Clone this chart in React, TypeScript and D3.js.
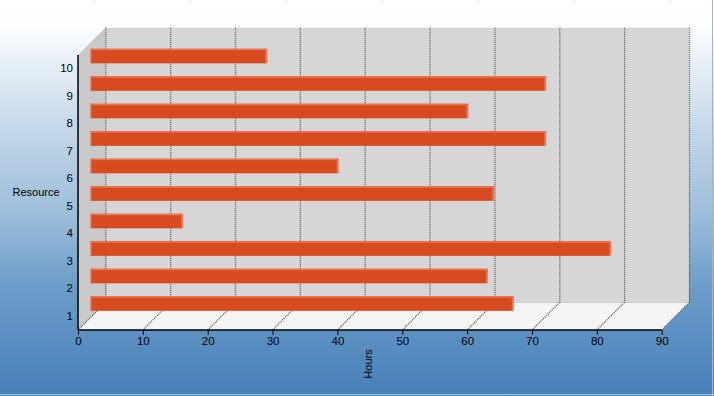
import React, { useEffect, useRef } from 'react';
import * as d3 from 'd3';

// Chart data
const resources = ['1', '2', '3', '4', '5', '6', '7', '8', '9', '10'];
const hours = [65, 61, 80, 14, 62, 38, 70, 58, 70, 27];
const xTicks = [0, 10, 20, 30, 40, 50, 60, 70, 80, 90];
const xTitle = 'Hours';
const yTitle = 'Resource';

const W = 714, H = 396;

export default function App() {
    const svgRef = useRef<SVGSVGElement>(null);

    useEffect(() => {
        const svg = d3.select(svgRef.current);
        svg.selectAll('*').remove();

        const left = 78, right = 661.7, top = 55, bottom = 330;
        const depth = 27.3;          // 3D offset of the back wall
        const barDepth = 12.7;       // bars sit half way into the box
        const font = 'Liberation Sans, Arial, sans-serif';

        const x = d3.scaleLinear().domain([0, 90]).range([left, right]);
        const y = d3.scaleBand<string>()
            .domain(resources.slice().reverse())
            .range([top, bottom]);

        // background gradient
        const defs = svg.append('defs');
        const grad = defs.append('linearGradient')
            .attr('id', 'bg').attr('x1', 0).attr('y1', 0).attr('x2', 0).attr('y2', 1);
        [[0, '#ffffff'], [0.06, '#fdfeff'], [0.33, '#c3d7e9'], [0.55, '#9bbcd9'],
         [0.72, '#6d9dc9'], [1, '#4680b9']].forEach(([o, c]) => {
            grad.append('stop').attr('offset', o as number).attr('stop-color', c as string);
        });

        svg.append('rect').attr('width', W).attr('height', H).attr('fill', 'url(#bg)');

        // faint marks on top edge
        const marks = [94, 190, 286, 382, 478, 574, 670];
        svg.append('g').selectAll('line').data(marks).enter().append('line')
            .attr('x1', d => d).attr('x2', d => d).attr('y1', 0).attr('y2', 4)
            .attr('stroke', '#ece4c4').attr('stroke-width', 1);

        // window border right / bottom
        svg.append('line').attr('x1', 712.5).attr('x2', 712.5).attr('y1', 0).attr('y2', H)
            .attr('stroke', '#a8b4c0').attr('stroke-width', 1);
        svg.append('line').attr('x1', 0).attr('x2', W).attr('y1', 394.5).attr('y2', 394.5)
            .attr('stroke', '#b8c0c8').attr('stroke-width', 1);

        // side wall
        svg.append('polygon')
            .attr('points', [[left, top], [left + depth, top - depth], [left + depth, bottom - depth], [left, bottom]].map(p => p.join(',')).join(' '))
            .attr('fill', '#c9c9c9');
        // back wall
        svg.append('rect')
            .attr('x', left + depth).attr('y', top - depth)
            .attr('width', right - left).attr('height', bottom - top)
            .attr('fill', '#d6d6d6');
        // floor
        svg.append('polygon')
            .attr('points', [[left, bottom], [left + depth, bottom - depth], [right + depth, bottom - depth], [right, bottom]].map(p => p.join(',')).join(' '))
            .attr('fill', '#f4f4f4');

        // grid lines on back wall and floor
        const grid = svg.append('g').attr('stroke', '#5c5c5c').attr('stroke-width', 1.3)
            .attr('stroke-dasharray', '1,1').attr('fill', 'none');
        xTicks.forEach(t => {
            grid.append('line')
                .attr('x1', x(t) + depth + 0.5).attr('x2', x(t) + depth + 0.5)
                .attr('y1', top - depth).attr('y2', bottom - depth);
            grid.append('line')
                .attr('x1', x(t)).attr('y1', bottom)
                .attr('x2', x(t) + depth).attr('y2', bottom - depth);
        });

        // bars
        const barH = y.bandwidth() * 0.53;
        const bars = svg.append('g');
        resources.forEach((r, i) => {
            const cy = (y(r) as number) + y.bandwidth() / 2 - barDepth;
            const x0 = x(0) + barDepth, x1 = x(hours[i]) + barDepth;
            const g = bars.append('g');
            g.append('rect')
                .attr('x', x0).attr('y', cy - barH / 2)
                .attr('width', x1 - x0).attr('height', barH)
                .attr('fill', '#d84a20');
            g.append('rect')
                .attr('x', x0).attr('y', cy - barH / 2)
                .attr('width', x1 - x0 + 1.5).attr('height', 1.5)
                .attr('fill', '#ee7451');
            g.append('rect')
                .attr('x', x1 - 0.5).attr('y', cy - barH / 2)
                .attr('width', 2).attr('height', barH)
                .attr('fill', '#ea7250');
            g.append('rect')
                .attr('x', x0).attr('y', cy - barH / 2)
                .attr('width', 1).attr('height', barH)
                .attr('fill', '#e9704d');
        });

        // axes
        const xAxis = d3.axisBottom(x).tickValues(xTicks).tickSize(5).tickPadding(2).tickFormat(d3.format('d'));
        const gx = svg.append('g').attr('transform', `translate(0,${bottom})`).call(xAxis);
        gx.select('.domain').attr('stroke', '#000').attr('stroke-width', 1.5).attr('d', `M${left},0H${right}`);
        gx.selectAll('text').attr('font-family', font).attr('font-size', 11.5).attr('fill', '#000');

        const yAxis = d3.axisLeft(y).tickSize(0).tickPadding(5);
        const gy = svg.append('g').attr('transform', `translate(${left},0)`).call(yAxis);
        gy.select('.domain').attr('stroke', '#000').attr('stroke-width', 1.5).attr('d', `M0,${top}V${bottom}`);
        gy.selectAll('text').attr('font-family', font).attr('font-size', 11.5).attr('fill', '#000');

        // axis titles
        svg.append('text')
            .attr('transform', `translate(372,364) rotate(-90)`)
            .attr('text-anchor', 'middle')
            .attr('font-family', font).attr('font-size', 11)
            .text(xTitle);
        svg.append('text')
            .attr('x', 36).attr('y', 196)
            .attr('text-anchor', 'middle')
            .attr('font-family', font).attr('font-size', 11)
            .text(yTitle);
    }, []);

    return (
        <div>
            <svg ref={svgRef} width={W} height={H}
                 style={{ position: 'absolute', left: 0, top: 0, display: 'block' }} />
        </div>
    );
}
